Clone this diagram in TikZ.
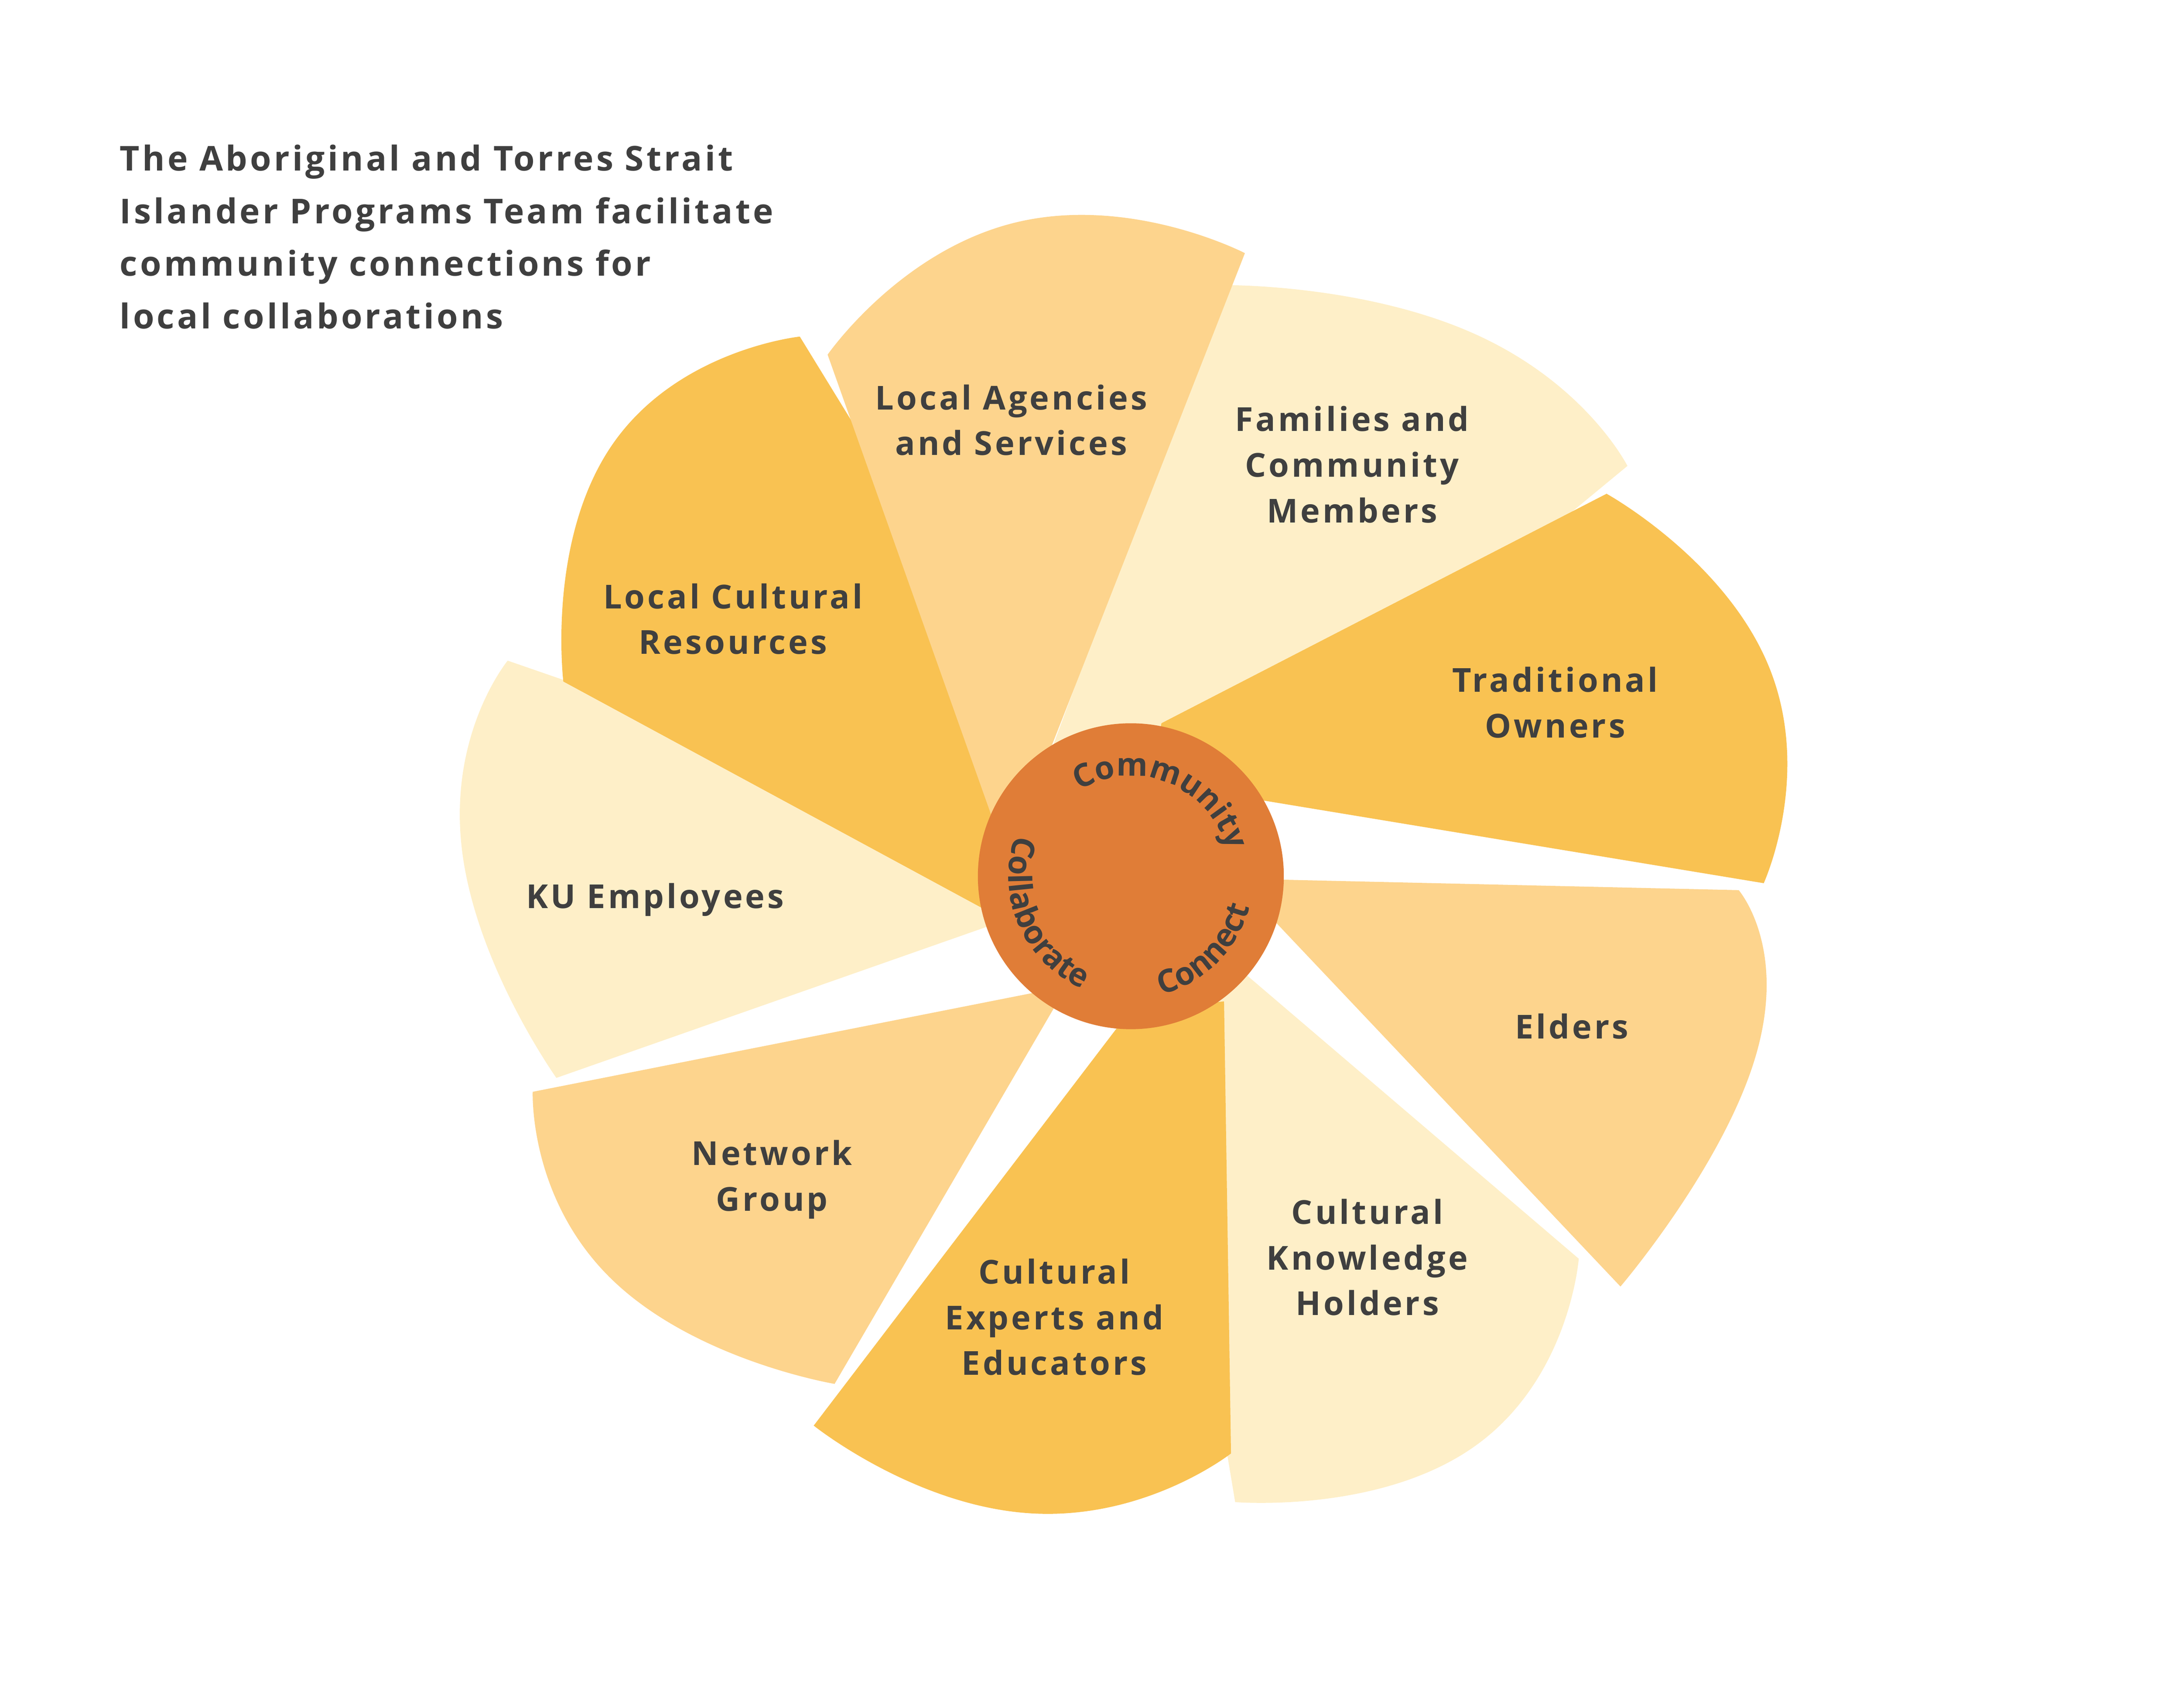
\documentclass[tikz,border=0pt]{standalone}
\usepackage{fontspec}
\setmainfont[LetterSpace=8]{Open Sans}
\usetikzlibrary{decorations.text}
\definecolor{pdark}{HTML}{F9C252}
\definecolor{pmid}{HTML}{FDD48D}
\definecolor{plight}{HTML}{FEEFC8}
\definecolor{hub}{HTML}{E07D37}
\definecolor{ink}{HTML}{3F3F3F}
\begin{document}
\begin{tikzpicture}[x=0.02cm,y=-0.02cm,
  lbl/.style={text=ink,font=\fontsize{13.5}{18.7}\selectfont\bfseries,align=center}]
\useasboundingbox (0,0) rectangle (1568,1228);
% #2 corner1, #3 arc mid, #4 corner2, #1 inner points listed from corner2 side, #5 colour
\newcommand\petal[5]{\fill[#5,line join=round] #2 -- plot[smooth,tension=1] coordinates {#2 #3 #4} -- #1 -- cycle;}
\petal{(813,630)}{(1135,905)}{(1060,1040)}{(888,1080)}{plight}
\petal{(813,630)}{(365,475)}{(332,610)}{(400,775)}{plight}
\petal{(813,700)--(813,630)}{(600,995)}{(440,920)}{(383,785)}{pmid}
\petal{(813,726)--(880,720)}{(885,1045)}{(740,1088)}{(585,1025)}{pdark}
\petal{(900,645)--(813,630)}{(1250,640)}{(1262,760)}{(1165,925)}{pmid}
\petal{(813,630)--(724,625)}{(880,205)}{(1060,240)}{(1170,335)}{plight}
\petal{(835,520)--(813,630)--(905,575)}{(1268,635)}{(1272,480)}{(1155,355)}{pdark}
\petal{(710,655)--(813,630)}{(575,242)}{(440,320)}{(405,490)}{pdark}
\petal{(724,618)}{(595,255)}{(730,160)}{(895,182)}{pmid}
\node[circle,fill=hub,minimum size=4.4cm,inner sep=0] (hubc) at (813,630) {};
\begin{scope}[shift={(hubc.center)},x=0.02cm,y=0.02cm]
\path[decorate,decoration={text along path,text align=center,text={|\fontsize{13}{13}\selectfont\bfseries\color{ink}|Community}}]
  (128:72) arc[start angle=128,end angle=8,radius=72];
\path[decorate,decoration={text along path,text align=center,text={|\fontsize{13}{13}\selectfont\bfseries\color{ink}|Connect}}]
  (-95:88) arc[start angle=-95,end angle=5,radius=88];
\path[decorate,decoration={text along path,text align=center,text={|\fontsize{13}{13}\selectfont\bfseries\color{ink}|Collaborate}}]
  (145:88) arc[start angle=145,end angle=262,radius=88];
\end{scope}
\node[lbl,align=left,anchor=north west,font=\fontsize{14}{21.5}\selectfont\bfseries] (title) at (80,98)
  {The Aboriginal and Torres Strait\\Islander Programs Team facilitate\\community connections for\\local collaborations};
\node[lbl] (la) at (727,302) {Local Agencies\\and Services};
\node[lbl] (fam) at (972,334) {Families and\\Community\\Members};
\node[lbl] (to) at (1118,505) {Traditional\\Owners};
\node[lbl] (el) at (1130,738) {Elders};
\node[lbl] (ckh) at (983,904) {Cultural\\Knowledge\\Holders};
\node[lbl] (ce) at (758,947) {Cultural\\Experts and\\Educators};
\node[lbl] (ng) at (555,848) {Network\\Group};
\node[lbl] (ku) at (471,647) {KU Employees};
\node[lbl] (lcr) at (527,445) {Local Cultural\\Resources};
\end{tikzpicture}
\end{document}
